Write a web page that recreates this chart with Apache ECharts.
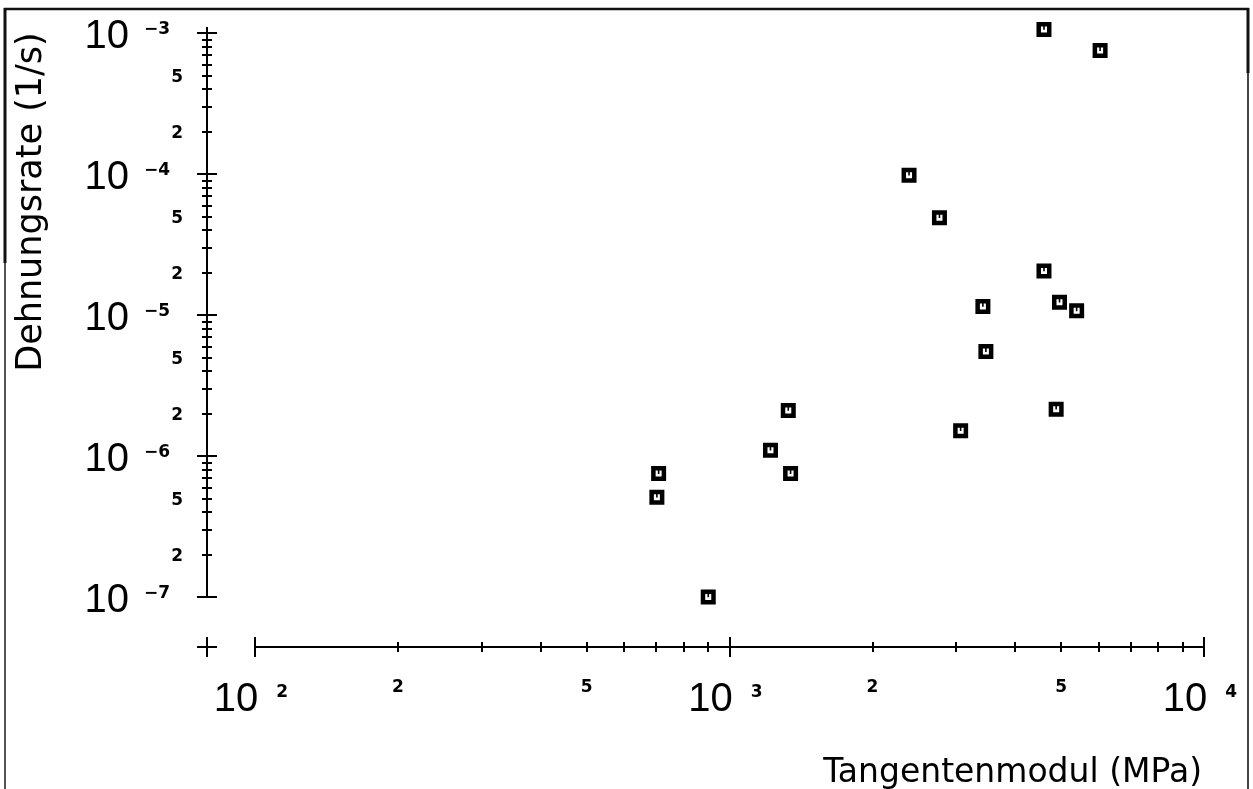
<!DOCTYPE html>
<html>
<head>
<meta charset="utf-8">
<script src="https://cdn.jsdelivr.net/npm/echarts@6/dist/echarts.min.js"></script>
<style>
html,body{margin:0;padding:0;background:#fff;}
#chart{width:1253px;height:789px;}
</style>
</head>
<body>
<div id="chart"></div>
<script>
// ---- data ----
const tangentModulus = [4600, 6040, 2390, 2770, 4600, 4960, 5390, 3420, 3470, 4880, 3070, 1330, 1220, 1345, 709, 703, 902];
const strainRate = [1.06e-3, 7.5e-4, 9.8e-5, 4.9e-5, 2.05e-5, 1.23e-5, 1.07e-5, 1.15e-5, 5.5e-6, 2.15e-6, 1.51e-6, 2.1e-6, 1.1e-6, 7.5e-7, 7.5e-7, 5.1e-7, 1.0e-7];

// ---- ticks / tick labels ----
const xMajorTicks = [100, 1000, 10000];
const xMinorTicks = [200, 300, 400, 500, 600, 700, 800, 900, 2000, 3000, 4000, 5000, 6000, 7000, 8000, 9000];
const xMinorLabels = [200, 500, 2000, 5000];
const yMajorTicks = [1e-7, 1e-6, 1e-5, 1e-4, 1e-3];
const yMinorTicks = [2e-7, 3e-7, 4e-7, 5e-7, 6e-7, 7e-7, 8e-7, 9e-7,
                     2e-6, 3e-6, 4e-6, 5e-6, 6e-6, 7e-6, 8e-6, 9e-6,
                     2e-5, 3e-5, 4e-5, 5e-5, 6e-5, 7e-5, 8e-5, 9e-5,
                     2e-4, 3e-4, 4e-4, 5e-4, 6e-4, 7e-4, 8e-4, 9e-4];
const yMinorLabels = [2e-7, 5e-7, 2e-6, 5e-6, 2e-5, 5e-5, 2e-4, 5e-4];

const xTitle = 'Tangentenmodul (MPa)';
const yTitle = 'Dehnungsrate (1/s)';

// ---- layout ----
const G = {left: 255, top: 33, right: 49, bottom: 192};
const Y_OFF = 48, X_OFF = 50;
const W = 1253, H = 789;
const ink = '#000';

function expOf(v){ return Math.round(Math.log10(v)); }
function expText(v){
  const e = expOf(v);
  return e < 0 ? '\u2212' + Math.abs(e) : String(e);
}
function majorFmtY(v){ return '{b|10}{e|' + expText(v) + '}'; }
function majorFmtX(v){ return '{b|10}{e|' + expText(v) + '}'; }
function minorFmt(v){
  const e = Math.floor(Math.log10(v) + 1e-9);
  return '{m|' + Math.round(v / Math.pow(10, e)) + '}';
}
const bigDigits = {fontSize: 40, fontFamily: 'Liberation Sans', color: ink, lineHeight: 32};
const richMajorY = {
  b: bigDigits,
  e: {fontSize: 17, fontWeight: 'bold', fontFamily: 'DejaVu Sans', color: ink, lineHeight: 14, verticalAlign: 'top', padding: [0, 0, 0, 15]}
};
const richMajorX = {
  b: bigDigits,
  e: {fontSize: 17, fontWeight: 'bold', fontFamily: 'DejaVu Sans', color: ink, lineHeight: 14, verticalAlign: 'top', padding: [0, 8, 0, 18]}
};
const richMinor = {
  m: {fontSize: 17, fontWeight: 'bold', fontFamily: 'DejaVu Sans', color: ink, lineHeight: 14}
};
const lineSt = {color: ink, width: 2};

function baseX(){
  return {type: 'log', logBase: 10, min: 100, max: 10000, position: 'bottom', offset: X_OFF,
    splitLine: {show: false}, axisLine: {show: false}, axisTick: {show: false}, axisLabel: {show: false},
    nameMoveOverlap: false};
}
function baseY(){
  return {type: 'log', logBase: 10, min: 1e-7, max: 1e-3, position: 'left', offset: Y_OFF,
    splitLine: {show: false}, axisLine: {show: false}, axisTick: {show: false}, axisLabel: {show: false},
    nameMoveOverlap: false};
}

const xAxes = [
  Object.assign(baseX(), {
    axisLine: {show: true, lineStyle: lineSt},
    axisTick: {show: true, inside: false, length: 10, customValues: xMajorTicks, lineStyle: lineSt},
    axisLabel: {show: true, customValues: xMajorTicks, formatter: majorFmtX, margin: 37, rich: richMajorX, hideOverlap: false},
    name: xTitle, nameLocation: 'end', nameGap: -2,
    nameTextStyle: {fontSize: 33, fontFamily: 'DejaVu Sans', color: ink, align: 'right', verticalAlign: 'top', padding: [110, 0, 0, 0]}
  }),
  Object.assign(baseX(), {
    axisTick: {show: true, inside: true, length: 10, customValues: xMajorTicks, lineStyle: lineSt}
  }),
  Object.assign(baseX(), {
    axisTick: {show: true, inside: false, length: 5, customValues: xMinorTicks, lineStyle: lineSt},
    axisLabel: {show: true, customValues: xMinorLabels, formatter: minorFmt, margin: 34, rich: richMinor, hideOverlap: false}
  }),
  Object.assign(baseX(), {
    axisTick: {show: true, inside: true, length: 5, customValues: xMinorTicks, lineStyle: lineSt}
  })
];

const yAxes = [
  Object.assign(baseY(), {
    axisLine: {show: true, lineStyle: lineSt},
    axisTick: {show: true, inside: false, length: 10, customValues: yMajorTicks, lineStyle: lineSt},
    axisLabel: {show: true, customValues: yMajorTicks, formatter: majorFmtY, margin: 37, rich: richMajorY, hideOverlap: false, padding: [8, 0, 0, 0]},
    name: yTitle, nameLocation: 'middle', nameRotate: 90, nameGap: 158,
    nameTextStyle: {fontSize: 35, fontFamily: 'DejaVu Sans', color: ink, padding: [0, 0, 0, 226]}
  }),
  Object.assign(baseY(), {
    axisTick: {show: true, inside: true, length: 10, customValues: yMajorTicks, lineStyle: lineSt}
  }),
  Object.assign(baseY(), {
    axisTick: {show: true, inside: false, length: 5, customValues: yMinorTicks, lineStyle: lineSt},
    axisLabel: {show: true, customValues: yMinorLabels, formatter: minorFmt, margin: 24, rich: richMinor, hideOverlap: false, padding: [4, 0, 0, 0]}
  }),
  Object.assign(baseY(), {
    axisTick: {show: true, inside: true, length: 5, customValues: yMinorTicks, lineStyle: lineSt}
  })
];

const points = tangentModulus.map((x, i) => [x, strainRate[i]]);

// bold square marker with a small "U" shaped opening inside
const markerPath = 'path://M0,0H15V15H0Z M4.5,4.5V10.5H10.5V4.5H8.3V7.8H6.7V4.5Z';

const ox = G.left - Y_OFF, oy = H - G.bottom + X_OFF;

const option = {
  backgroundColor: '#fff',
  animation: false,
  grid: {left: G.left, top: G.top, right: G.right, bottom: G.bottom, containLabel: false, outerBoundsMode: 'none'},
  xAxis: xAxes,
  yAxis: yAxes,
  series: [{
    type: 'scatter',
    name: 'Dehnungsrate',
    xAxisIndex: 0, yAxisIndex: 0,
    data: points,
    symbol: markerPath,
    symbolSize: 15,
    clip: false,
    itemStyle: {color: ink, opacity: 1}
  }],
  graphic: [
    // frame
    {type: 'line', shape: {x1: 4, y1: 9, x2: 1249, y2: 9}, style: {stroke: '#111', lineWidth: 2.5}},
    {type: 'line', shape: {x1: 5, y1: 8, x2: 5, y2: 263}, style: {stroke: '#111', lineWidth: 3}},
    {type: 'line', shape: {x1: 5, y1: 263, x2: 5, y2: H}, style: {stroke: '#555', lineWidth: 2}},
    {type: 'line', shape: {x1: 1248, y1: 8, x2: 1248, y2: 73}, style: {stroke: '#111', lineWidth: 3}},
    {type: 'line', shape: {x1: 1248, y1: 73, x2: 1248, y2: H}, style: {stroke: '#444', lineWidth: 2}},
    // origin cross
    {type: 'line', shape: {x1: ox - 10, y1: oy, x2: ox + 10, y2: oy}, style: {stroke: ink, lineWidth: 2}},
    {type: 'line', shape: {x1: ox, y1: oy - 10, x2: ox, y2: oy + 10}, style: {stroke: ink, lineWidth: 2}},
    // axis line overshoot at top
    {type: 'line', shape: {x1: ox, y1: G.top - 6, x2: ox, y2: G.top}, style: {stroke: ink, lineWidth: 2}}
  ]
};

const chart = echarts.init(document.getElementById('chart'), null, {renderer: 'canvas', width: W, height: H});
chart.setOption(option);
</script>
</body>
</html>
